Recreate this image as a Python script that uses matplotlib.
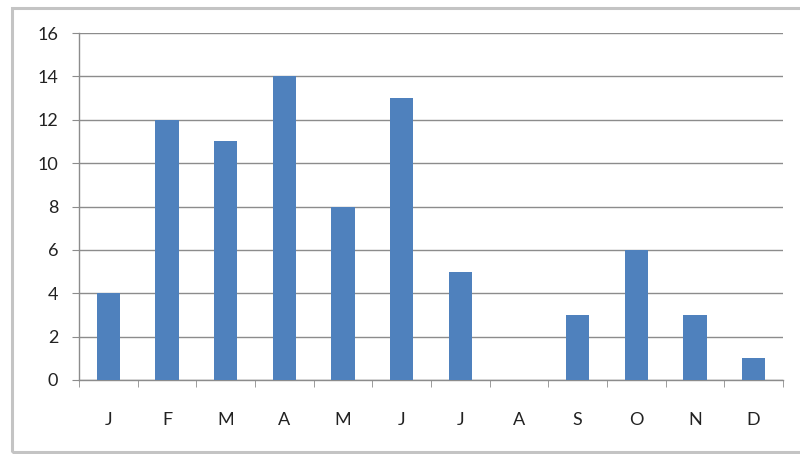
import numpy as np
import matplotlib
matplotlib.use('Agg')
import matplotlib.pyplot as plt
from matplotlib.patches import Rectangle

# Dữ liệu theo tháng
months = ['J', 'F', 'M', 'A', 'M', 'J', 'J', 'A', 'S', 'O', 'N', 'D']
counts = [4, 12, 11, 14, 8, 13, 5, 0, 3, 6, 3, 1]
y_ticks = [0, 2, 4, 6, 8, 10, 12, 14, 16]

plt.rcParams['font.family'] = ['Lato', 'DejaVu Sans']

fig = plt.figure(figsize=(8, 4.54), dpi=100)
fig.patch.set_facecolor('white')

# Khung viền ngoài (bị cắt ở mép phải)
fig.add_artist(Rectangle((12 / 800, 2 / 454), 800 / 800, 444 / 454,
                         transform=fig.transFigure, fill=False,
                         edgecolor='#c4c4c4', linewidth=2.2))

ax = fig.add_axes([79 / 800, 74 / 454, 704 / 800, 347 / 454])
x = np.arange(len(months))
ax.bar(x, counts, width=0.4, color='#4f81bd', zorder=3)

ax.set_xlim(-0.5, len(months) - 0.5)
ax.set_ylim(0, 16)
ax.set_yticks(y_ticks)
ax.set_xticks(x)
ax.set_xticklabels(months)
ax.set_xticks(np.arange(-0.5, len(months), 1), minor=True)

ax.grid(axis='y', color='#8c8c8c', linewidth=1, zorder=0)
for s in ['top', 'right']:
    ax.spines[s].set_visible(False)
for s in ['left', 'bottom']:
    ax.spines[s].set_color('#8c8c8c')
    ax.spines[s].set_linewidth(1)

ax.tick_params(axis='x', which='major', length=0, pad=23, labelsize=13,
               labelcolor='#222222')
ax.tick_params(axis='x', which='minor', length=5, color='#8c8c8c', direction='out')
ax.tick_params(axis='y', length=5, color='#8c8c8c', pad=10, labelsize=13,
               labelcolor='#222222')

fig.savefig('out.png', dpi=100)
